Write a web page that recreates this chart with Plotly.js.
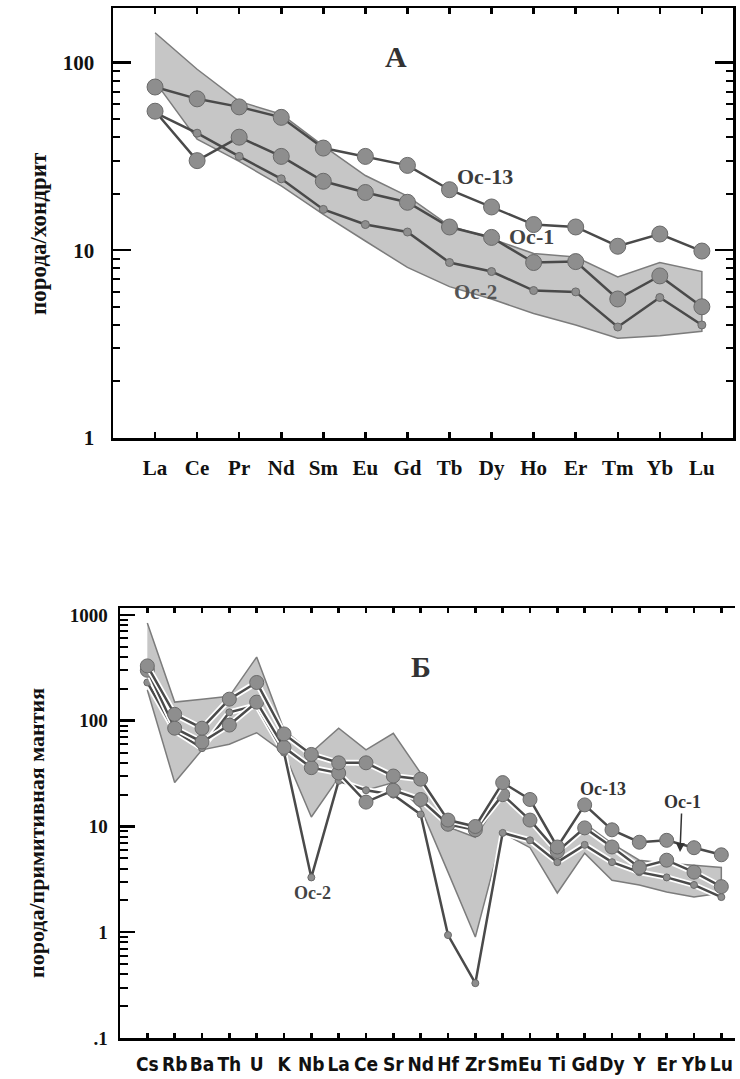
<!DOCTYPE html>
<html>
<head>
<meta charset="utf-8">
<script src="https://cdn.plot.ly/plotly-3.0.1.min.js"></script>
<style>html,body{margin:0;padding:0;background:#fff;}#chart{width:740px;height:1079px;}</style>
</head>
<body>
<div id="chart"></div>
<script>
// ---------- Chart A (chondrite-normalised REE) ----------
const catsA = ['La','Ce','Pr','Nd','Sm','Eu','Gd','Tb','Dy','Ho','Er','Tm','Yb','Lu'];
const oc13A = [74, 64, 58, 51, 35, 31.6, 28.3, 21, 17, 13.7, 13.3, 10.5, 12.2, 9.9];
const oc1A  = [55, 30, 40, 31.6, 23.3, 20.3, 18, 13.3, 11.7, 8.6, 8.7, 5.5, 7.3, 5.0];
const oc2A  = [54, 42, 31.6, 24, 16.5, 13.7, 12.5, 8.6, 7.7, 6.1, 6.0, 3.9, 5.6, 4.0];
const bandUpperA = [144, 92, 62, 53, 36, 25, 19.4, 13.5, 11.5, 9.6, 9.2, 7.2, 8.6, 7.7];
const bandLowerA = [79, 39, 29.7, 22, 15.5, 11.2, 8.1, 6.4, 5.5, 4.6, 4.0, 3.4, 3.5, 3.7];
const yTicksA = [1, 10, 100];
const yTickTextA = ['1', '10', '100'];

// ---------- Chart Б (primitive-mantle-normalised spidergram) ----------
const catsB = ['Cs','Rb','Ba','Th','U','K','Nb','La','Ce','Sr','Nd','Hf','Zr','Sm','Eu','Ti','Gd','Dy','Y','Er','Yb','Lu'];
const oc13B = [330, 115, 85, 160, 230, 75, 48, 40, 40, 30, 28, 11.5, 10, 26, 18, 6.4, 16, 9.3, 7.1, 7.4, 6.3, 5.4];
const oc1B  = [300, 85, 63, 91, 150, 56, 36, 32, 17, 22, 18, 10.5, 9.3, 20, 11.5, 5.8, 9.7, 6.4, 4.1, 4.8, 3.7, 2.7];
const oc2B  = [230, 80, 55, 120, 140, 50, 3.3, 27, 22, 20, 13, 0.94, 0.33, 8.7, 7.4, 4.6, 6.7, 4.6, 3.7, 3.3, 2.8, 2.15];
const bandUpperB = [840, 150, 160, 170, 400, 82, 50, 85, 53, 76, 32, 9.9, 7.9, 20, 12.3, 5.1, 10.7, 6.9, 4.8, 4.5, 4.3, 4.1];
const bandLowerB = [195, 26, 53, 60, 77, 50, 12.3, 29, 22, 26, 15, 3.7, 0.9, 8.7, 6.3, 2.35, 5.6, 3.1, 2.8, 2.4, 2.15, 2.35];
const yTicksB = [0.1, 1, 10, 100, 1000];
const yTickTextB = ['.1', '1', '10', '100', '1000'];

function minorTicks(decades) {
  const out = [];
  decades.forEach(d => { for (let k = 2; k <= 9; k++) out.push(d * k); });
  return out;
}
function closedBand(cats, up, lo) {
  return { x: cats.concat(cats.slice().reverse()), y: up.concat(lo.slice().reverse()) };
}

const LINE = '#4a4a4a', MFILL = '#8e8e8e', MLINE = '#6a6a6a';
const BAND_FILL = '#c6c6c6', BAND_LINE = '#7c7c7c';
const SERIF = 'Liberation Serif, Times New Roman, serif';
const NARROW = 'Liberation Sans Narrow, DejaVu Sans Condensed, Liberation Sans, Arial, sans-serif';

const bandA = closedBand(catsA, bandUpperA, bandLowerA);
const bandB = closedBand(catsB, bandUpperB, bandLowerB);

function series(cats, vals, xa, ya, size, halo) {
  const tr = [];
  if (halo) tr.push({x: cats, y: vals, xaxis: xa, yaxis: ya, mode: 'lines', type: 'scatter',
    line: {color: '#ffffff', width: 6}, hoverinfo: 'skip', showlegend: false});
  tr.push({x: cats, y: vals, xaxis: xa, yaxis: ya, mode: 'lines+markers', type: 'scatter',
    line: {color: LINE, width: 2.5},
    marker: {size: size, color: MFILL, line: {color: MLINE, width: 1}},
    hoverinfo: 'skip', showlegend: false});
  return tr;
}

const traces = [
  {x: bandA.x, y: bandA.y, xaxis: 'x', yaxis: 'y', type: 'scatter', mode: 'lines', fill: 'toself',
   fillcolor: BAND_FILL, line: {color: BAND_LINE, width: 1.5}, hoverinfo: 'skip', showlegend: false},
  ...series(catsA, oc2A, 'x', 'y', 8, false),
  ...series(catsA, oc1A, 'x', 'y', 16, false),
  ...series(catsA, oc13A, 'x', 'y', 16, false),
  {x: bandB.x, y: bandB.y, xaxis: 'x2', yaxis: 'y2', type: 'scatter', mode: 'lines', fill: 'toself',
   fillcolor: BAND_FILL, line: {color: BAND_LINE, width: 1.5}, hoverinfo: 'skip', showlegend: false},
  ...series(catsB, oc2B, 'x2', 'y2', 7, true),
  ...series(catsB, oc1B, 'x2', 'y2', 14, true),
  ...series(catsB, oc13B, 'x2', 'y2', 14, true)
];

const W = 740, H = 1079;
const px = v => v / W, py = v => 1 - v / H;

const layout = {
  width: W, height: H,
  margin: {l: 0, r: 0, t: 0, b: 0},
  paper_bgcolor: '#fff', plot_bgcolor: '#fff',
  showlegend: false,
  xaxis: {
    domain: [px(113), px(733)], anchor: 'y', type: 'category',
    range: [-1, 13.74], showgrid: false, zeroline: false,
    showline: true, linecolor: '#000', linewidth: 2.5, mirror: 'ticks',
    ticks: 'inside', ticklen: 6, tickwidth: 2.5, tickcolor: '#000', tickangle: 0,
    tickfont: {family: SERIF, size: 21, color: '#111', weight: 'bold'},
    ticklabelstandoff: 9
  },
  yaxis: {
    domain: [py(438), py(8)], anchor: 'x', type: 'log',
    range: [0, 2.29], showgrid: false, zeroline: false,
    showline: true, linecolor: '#000', linewidth: 2.5, mirror: 'ticks',
    tickvals: yTicksA, ticktext: yTickTextA,
    ticks: 'inside', ticklen: 18, tickwidth: 2.5, tickcolor: '#000',
    minor: {tickvals: minorTicks([1, 10, 100]), ticks: 'inside', ticklen: 7, tickwidth: 2, tickcolor: '#000'},
    tickfont: {family: SERIF, size: 21, color: '#111', weight: 'bold'},
    ticklabelstandoff: 12
  },
  xaxis2: {
    domain: [px(120), px(735)], anchor: 'y2', type: 'category',
    range: [-1, 21.5], showgrid: false, zeroline: false,
    showline: true, linecolor: '#000', linewidth: 2.5, mirror: 'ticks',
    ticks: 'inside', ticklen: 5, tickwidth: 2.5, tickcolor: '#000', tickangle: 0,
    tickfont: {family: NARROW, size: 19, color: '#111', weight: 'bold'},
    ticklabelstandoff: 8
  },
  yaxis2: {
    domain: [py(1038), py(608)], anchor: 'x2', type: 'log',
    range: [-1, 3.066], showgrid: false, zeroline: false,
    showline: true, linecolor: '#000', linewidth: 2.5, mirror: false,
    tickvals: yTicksB, ticktext: yTickTextB,
    ticks: 'inside', ticklen: 15, tickwidth: 2.5, tickcolor: '#000',
    minor: {tickvals: minorTicks([0.1, 1, 10, 100]), ticks: 'inside', ticklen: 8, tickwidth: 2, tickcolor: '#000'},
    tickfont: {family: SERIF, size: 19, color: '#111', weight: 'bold'},
    ticklabelstandoff: 6
  },
  yaxis3: {
    overlaying: 'y2', side: 'right', anchor: 'x2', type: 'log',
    range: [-1, 3.066], showgrid: false, zeroline: false,
    showline: true, linecolor: '#c8c8c8', linewidth: 1.5,
    tickvals: yTicksB, ticks: 'inside', ticklen: 10, tickwidth: 2.5, tickcolor: '#000',
    showticklabels: false
  },
  annotations: [
    {xref: 'paper', yref: 'paper', x: px(38), y: py(234), xanchor: 'center', yanchor: 'middle',
     text: 'порода/хондрит', textangle: -90,
     showarrow: false, font: {family: SERIF, size: 23, color: '#111', weight: 'bold'}},
    {xref: 'paper', yref: 'paper', x: px(36), y: py(833), xanchor: 'center', yanchor: 'middle',
     text: 'порода/примитивная мантия', textangle: -90,
     showarrow: false, font: {family: SERIF, size: 22, color: '#111', weight: 'bold'}},
    {xref: 'paper', yref: 'paper', x: px(396), y: py(56), text: 'А', showarrow: false,
     xanchor: 'center', yanchor: 'middle',
     font: {family: SERIF, size: 30, color: '#333', weight: 'bold'}},
    {xref: 'paper', yref: 'paper', x: px(485), y: py(176), text: 'Oc-13', showarrow: false,
     xanchor: 'center', yanchor: 'middle',
     font: {family: SERIF, size: 22, color: '#3c3c3c', weight: 'bold'}},
    {xref: 'paper', yref: 'paper', x: px(531), y: py(237), text: 'Oc-1', showarrow: false,
     xanchor: 'center', yanchor: 'middle',
     font: {family: SERIF, size: 22, color: '#444', weight: 'bold'}},
    {xref: 'paper', yref: 'paper', x: px(475), y: py(292), text: 'Oc-2', showarrow: false,
     xanchor: 'center', yanchor: 'middle',
     font: {family: SERIF, size: 21, color: '#555', weight: 'bold'}},
    {xref: 'paper', yref: 'paper', x: px(421), y: py(666), text: 'Б', showarrow: false,
     xanchor: 'center', yanchor: 'middle',
     font: {family: SERIF, size: 30, color: '#333', weight: 'bold'}},
    {xref: 'paper', yref: 'paper', x: px(603), y: py(789), text: 'Oc-13', showarrow: false,
     xanchor: 'center', yanchor: 'middle',
     font: {family: SERIF, size: 18, color: '#333', weight: 'bold'}},
    {xref: 'paper', yref: 'paper', x: px(680), y: py(852), ax: 2, ay: -50, text: 'Oc-1', showarrow: true,
     arrowhead: 2, arrowsize: 1.2, arrowwidth: 1.5, arrowcolor: '#333', standoff: 0,
     font: {family: SERIF, size: 18, color: '#333', weight: 'bold'}},
    {xref: 'paper', yref: 'paper', x: px(312), y: py(893), text: 'Oc-2', showarrow: false,
     xanchor: 'center', yanchor: 'middle',
     font: {family: SERIF, size: 18, color: '#444', weight: 'bold'}}
  ]
};

Plotly.newPlot('chart', traces, layout, {staticPlot: true, displayModeBar: false});
</script>
</body>
</html>
